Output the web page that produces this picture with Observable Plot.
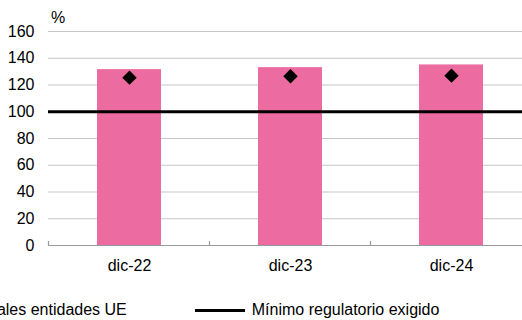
<!DOCTYPE html>
<html>
<head>
<meta charset="utf-8">
<script src="https://cdn.jsdelivr.net/npm/d3@7"></script>
<script src="https://cdn.jsdelivr.net/npm/@observablehq/plot@0.6"></script>
<style>
  html, body { margin: 0; padding: 0; background: #fff; overflow: hidden; width: 522px; height: 320px; }
  body { font-family: "Liberation Sans", Arial, sans-serif; position: relative; }
  #unit { position: absolute; left: 51px; top: 9px; font-size: 16px; color: #000; }
  #legend { position: absolute; left: -74px; top: 301px; display: flex; align-items: center; font-size: 16px; line-height: 18px; white-space: nowrap; color: #000; }
  .sw { display: inline-block; width: 14px; height: 14px; margin-right: 8px; }
  .ln { display: inline-block; width: 50px; height: 3px; background: #000; margin-right: 7px; }
  #chart svg { overflow: hidden; }
</style>
</head>
<body>
<div id="chart"></div>
<div id="unit">%</div>
<div id="legend"></div>
<script>
const categories = ["dic-22", "dic-23", "dic-24"];
const barValues = [131.5, 133, 135];
const diamondValues = [125.5, 126.5, 127];
const minimumRequired = 100;
const yTicks = [0, 20, 40, 60, 80, 100, 120, 140, 160];
const seriesNames = ["Principales entidades UE", "Mínimo regulatorio exigido"];

const barColor = "#ec6ba1";
const rows = categories.map((c, i) => ({cat: c, bar: barValues[i], dia: diamondValues[i]}));

const chart = Plot.plot({
  width: 522,
  height: 285,
  marginLeft: 48,
  marginRight: -11,
  marginTop: 31,
  marginBottom: 40,
  style: {fontFamily: "'Liberation Sans', Arial, sans-serif", fontSize: "16px", color: "#000", background: "#fff"},
  x: {domain: categories, paddingInner: 0.6, paddingOuter: 0.3, label: null},
  y: {domain: [0, 160], label: null},
  marks: [
    Plot.gridY(yTicks.filter(t => t > 0), {stroke: "#c6c6c6", strokeOpacity: 1, strokeWidth: 1}),
    Plot.axisY({ticks: yTicks, tickSize: 0, tickPadding: 14, label: null, fill: "#000"}),
    Plot.axisX({tickSize: 0, tickPadding: 14, label: null, fill: "#000"}),
    Plot.barY(rows, {x: "cat", y: "bar", fill: barColor}),
    Plot.ruleY([0], {stroke: "#9a9a9a", strokeWidth: 1.2}),
    Plot.ruleY([minimumRequired], {stroke: "#000", strokeWidth: 3}),
    Plot.dot(rows, {x: "cat", y: "dia", symbol: "diamond2", r: 6.5, fill: "#000", stroke: null})
  ]
});
document.getElementById("chart").appendChild(chart);

// Category boundary ticks (pointing up from the axis), positioned via the x scale
const xs = chart.scale("x");
const ys = chart.scale("y");
const svg = d3.select(chart);
const y0 = ys.apply(0);
const edges = categories.map(c => xs.apply(c) - (xs.step - xs.bandwidth) / 2);
edges.push(xs.apply(categories[categories.length - 1]) + xs.bandwidth + (xs.step - xs.bandwidth) / 2);
svg.append("g")
  .selectAll("line")
  .data(edges)
  .join("line")
  .attr("x1", d => d).attr("x2", d => d)
  .attr("y1", y0).attr("y2", y0 - 4)
  .attr("stroke", "#9a9a9a")
  .attr("stroke-width", 1.2);

// Legend
const lg = document.getElementById("legend");
lg.innerHTML = `<span class="sw" style="background:${barColor}"></span><span>${seriesNames[0]}</span>` +
  `<span style="display:inline-block;width:68px"></span><span class="ln"></span><span>${seriesNames[1]}</span>`;
</script>
</body>
</html>
